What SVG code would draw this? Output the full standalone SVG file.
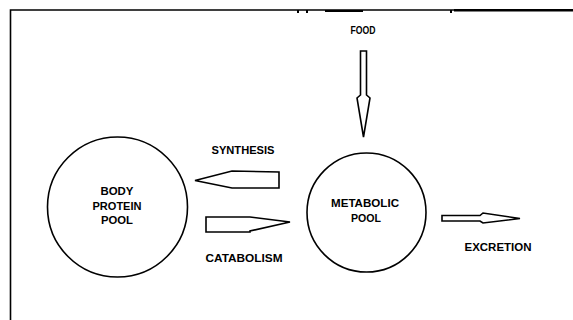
<svg xmlns="http://www.w3.org/2000/svg" width="573" height="320" viewBox="0 0 573 320">
<style>
.ln{fill:none;stroke:#000;stroke-width:1.6}
.ar{fill:#fff;stroke:#000;stroke-width:1.6;stroke-linejoin:miter}
.t{font-family:"Liberation Sans",Arial,sans-serif;font-weight:bold;font-size:10px;fill:#000;text-anchor:middle}
</style>
<rect width="573" height="320" fill="#fff"/>
<g id="frame">
<path class="ln" d="M10.5 320 V10 H573"/>
<path d="M454 9 H573 V11.5 H454 Z" fill="#000"/>
<path d="M325 10 H363 V12 H325 Z M297 10 H299 V13 H297 Z M306 10 H308 V13 H306 Z M450 10 H452 V13 H450 Z" fill="#000"/>
</g>
<g id="body-protein-pool">
<circle class="ln" cx="117.5" cy="207" r="70"/>
<text class="t" x="117" y="195" textLength="33" lengthAdjust="spacingAndGlyphs">BODY</text>
<text class="t" x="117" y="210" textLength="49" lengthAdjust="spacingAndGlyphs">PROTEIN</text>
<text class="t" x="117" y="224" textLength="32" lengthAdjust="spacingAndGlyphs">POOL</text>
</g>
<g id="metabolic-pool">
<circle class="ln" cx="366.5" cy="212.5" r="59.5"/>
<text class="t" x="365" y="207" textLength="68" lengthAdjust="spacingAndGlyphs">METABOLIC</text>
<text class="t" x="366" y="222" textLength="30" lengthAdjust="spacingAndGlyphs">POOL</text>
</g>
<g id="labels">
<text class="t" x="363" y="34" textLength="25" lengthAdjust="spacingAndGlyphs">FOOD</text>
<text class="t" x="243" y="154" textLength="63" lengthAdjust="spacingAndGlyphs">SYNTHESIS</text>
<text class="t" x="244" y="262" textLength="77" lengthAdjust="spacingAndGlyphs">CATABOLISM</text>
<text class="t" x="498" y="251" textLength="67" lengthAdjust="spacingAndGlyphs">EXCRETION</text>
</g>
<g id="connectors">
<path class="ar" d="M360.5 51 H366.5 V95 L370 98 L363.5 137 L357 98 L360.5 95 Z"/>
<path class="ar" d="M279 172 V188 H232 L195 180.5 L232 171 Z"/>
<path class="ar" d="M206 217 H250 L290 222 L250 231 V232 H206 Z"/>
<path class="ar" d="M442 215.5 H480 L483 213 L520 218.5 L483 223 L480 221 H442 Z"/>
</g>
</svg>
